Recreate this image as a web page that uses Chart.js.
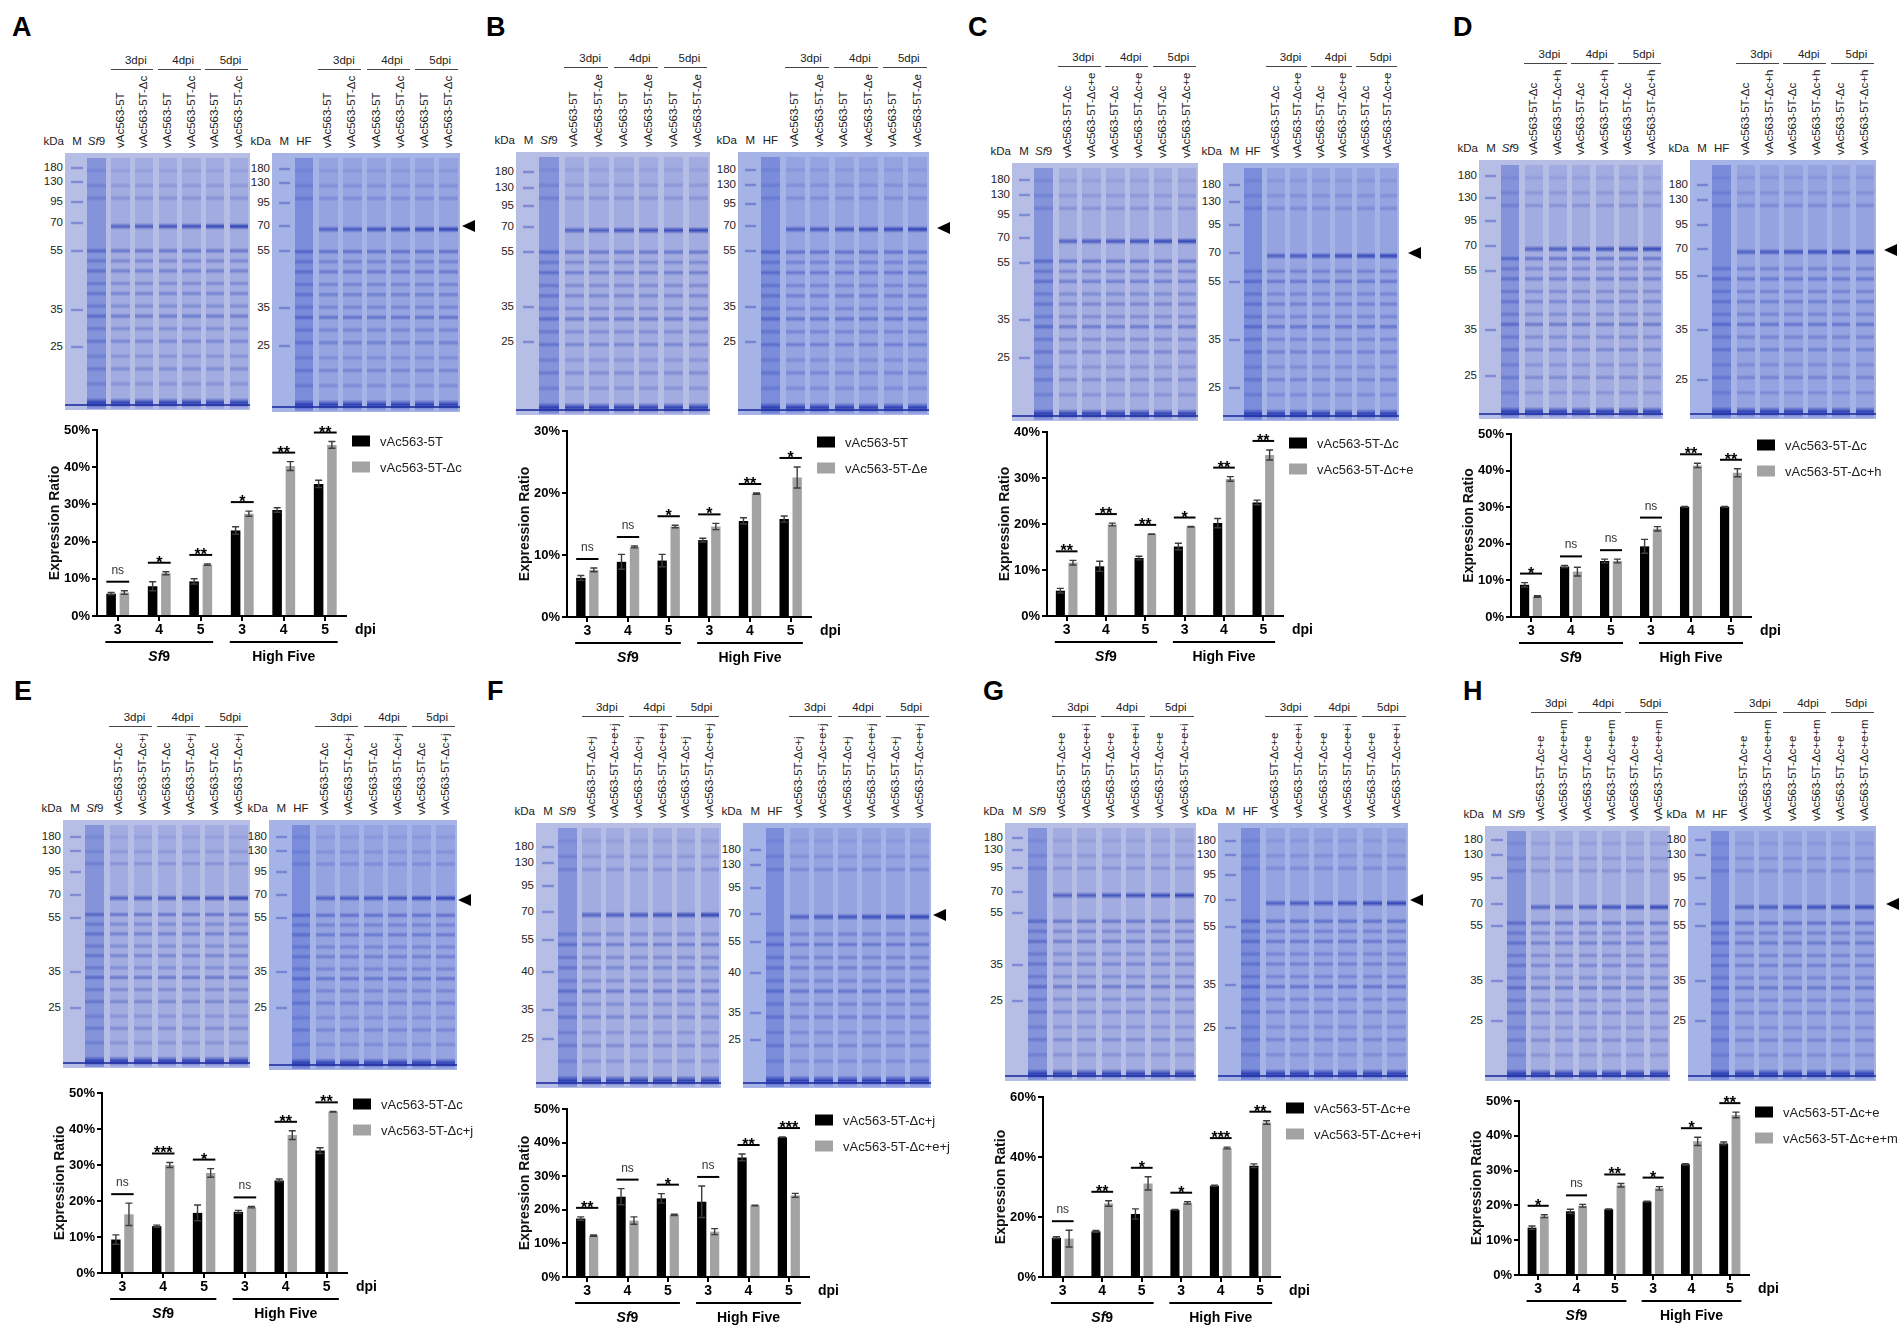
<!DOCTYPE html>
<html>
<head>
<meta charset="utf-8">
<script src="https://cdn.jsdelivr.net/npm/chart.js@4.4.1/dist/chart.umd.min.js"></script>
<style>
body { margin: 0; width: 1904px; height: 1329px; background: #fff; position: relative; overflow: hidden;
       font-family: "Liberation Sans", Arial, sans-serif; }
.t { position: absolute; line-height: 1; white-space: nowrap; font-size: 11.5px; color: #222; }
.v { position: absolute; line-height: 1; white-space: nowrap; font-size: 11.5px; color: #222;
     writing-mode: vertical-rl; transform: translate(-50%, -100%) rotate(180deg); }
.letter { position: absolute; font-size: 27px; font-weight: bold; line-height: 1; color: #000; }
.gel { position: absolute; overflow: hidden; }
.lane { position: absolute; }
.hline { position: absolute; height: 1px; background: #444; }
.arrow { position: absolute; width: 0; height: 0; border-top: 6px solid transparent;
         border-bottom: 6px solid transparent; border-right: 13px solid #000; }
canvas { position: absolute; }
</style>
</head>
<body>
<script>
// x categories and cell lines, shared by all panels
const dpiLabels = ['3', '4', '5', '3', '4', '5'];
const cellLines = ['Sf9', 'High Five'];

// A
const aNames = ['vAc563-5T', 'vAc563-5T-Δc'];
const aBlack = [6.0, 8.0, 9.3, 23.0, 28.5, 35.5];
const aBlackErr = [0.3, 1.2, 0.7, 1.0, 0.6, 1.0];
const aGray = [6.3, 11.5, 13.8, 27.5, 40.3, 46.0];
const aGrayErr = [0.5, 0.4, 0.2, 0.7, 1.2, 0.9];
const aSig = ['ns', '*', '**', '*', '**', '**'];

// B
const bNames = ['vAc563-5T', 'vAc563-5T-Δe'];
const bBlack = [6.3, 8.9, 9.1, 12.4, 15.5, 15.8];
const bBlackErr = [0.4, 1.2, 1.0, 0.3, 0.5, 0.5];
const bGray = [7.6, 11.3, 14.6, 14.6, 19.9, 22.5];
const bGrayErr = [0.3, 0.15, 0.2, 0.5, 0.1, 1.7];
const bSig = ['ns', 'ns', '*', '*', '**', '*'];

// C
const cNames = ['vAc563-5T-Δc', 'vAc563-5T-Δc+e'];
const cBlack = [5.5, 10.8, 12.6, 15.1, 20.2, 24.7];
const cBlackErr = [0.5, 1.1, 0.4, 0.7, 1.0, 0.5];
const cGray = [11.6, 19.9, 17.8, 19.4, 29.8, 35.0];
const cGrayErr = [0.5, 0.3, 0.05, 0.05, 0.5, 1.1];
const cSig = ['**', '**', '**', '*', '**', '**'];

// D
const dNames = ['vAc563-5T-Δc', 'vAc563-5T-Δc+h'];
const dBlack = [8.8, 13.8, 15.3, 19.3, 30.1, 30.1];
const dBlackErr = [0.6, 0.3, 0.5, 1.9, 0.1, 0.1];
const dGray = [5.6, 12.4, 15.3, 24.1, 41.4, 39.4];
const dGrayErr = [0.2, 1.2, 0.5, 0.6, 0.6, 1.1];
const dSig = ['*', 'ns', 'ns', 'ns', '**', '**'];

// E
const eNames = ['vAc563-5T-Δc', 'vAc563-5T-Δc+j'];
const eBlack = [9.3, 13.0, 16.7, 17.0, 25.7, 34.0];
const eBlackErr = [1.3, 0.3, 2.2, 0.4, 0.4, 0.8];
const eGray = [16.3, 30.0, 27.8, 18.3, 38.3, 44.8];
const eGrayErr = [3.1, 0.7, 1.2, 0.2, 1.2, 0.1];
const eSig = ['ns', '***', '*', 'ns', '**', '**'];

// F
const fNames = ['vAc563-5T-Δc+j', 'vAc563-5T-Δc+e+j'];
const fBlack = [17.4, 23.9, 23.4, 22.4, 35.6, 41.6];
const fBlackErr = [0.5, 2.4, 1.4, 4.7, 1.0, 0.05];
const fGray = [12.3, 16.8, 18.5, 13.5, 21.3, 24.3];
const fGrayErr = [0.2, 1.1, 0.2, 0.9, 0.1, 0.6];
const fSig = ['**', 'ns', '*', 'ns', '**', '***'];

// G
const gNames = ['vAc563-5T-Δc+e', 'vAc563-5T-Δc+e+i'];
const gBlack = [13.1, 15.2, 21.0, 22.4, 30.4, 37.1];
const gBlackErr = [0.3, 0.3, 1.7, 0.1, 0.2, 0.6];
const gGray = [12.8, 24.5, 31.2, 24.7, 43.0, 51.5];
const gGrayErr = [2.8, 0.9, 2.2, 0.4, 0.3, 0.6];
const gSig = ['ns', '**', '*', '*', '***', '**'];

// H
const hNames = ['vAc563-5T-Δc+e', 'vAc563-5T-Δc+e+m'];
const hBlack = [13.6, 18.3, 18.9, 21.1, 31.8, 37.8];
const hBlackErr = [0.5, 0.6, 0.1, 0.1, 0.2, 0.4];
const hGray = [16.9, 19.9, 25.8, 24.9, 38.4, 46.0];
const hGrayErr = [0.4, 0.4, 0.5, 0.5, 1.2, 0.8];
const hSig = ['*', 'ns', '**', '*', '*', '**'];

// gel marker ladders (kDa)
const ladder = ['180', '130', '95', '70', '55', '35', '25'];
const ladderF = ['180', '130', '95', '70', '55', '40', '35', '25'];

const panels = [
  { id: 'A', names: aNames, black: aBlack, blackErr: aBlackErr, gray: aGray, grayErr: aGrayErr, sig: aSig, max: 50, step: 10,
    letter: [12, 14], chart: { x: 97, end: 346, top: 430, zero: 616 }, arrow: [462, 226],
    gels: [{ x: 65, y: 153, w: 185, h: 257, s: 'Sf9', m: ladder, my: [15, 29, 49, 70, 98, 157, 194] },
           { x: 272, y: 153, w: 188, h: 259, s: 'HF', m: ladder, my: [16, 30, 50, 73, 98, 155, 193] }] },
  { id: 'B', names: bNames, black: bBlack, blackErr: bBlackErr, gray: bGray, grayErr: bGrayErr, sig: bSig, max: 30, step: 10,
    letter: [486, 14], chart: { x: 567, end: 811, top: 431, zero: 617 }, arrow: [937, 228],
    gels: [{ x: 516, y: 152, w: 194, h: 263, s: 'Sf9', m: ladder, my: [20, 36, 54, 75, 100, 155, 190] },
           { x: 738, y: 152, w: 191, h: 263, s: 'HF', m: ladder, my: [18, 33, 52, 74, 99, 155, 190] }] },
  { id: 'C', names: cNames, black: cBlack, blackErr: cBlackErr, gray: cGray, grayErr: cGrayErr, sig: cSig, max: 40, step: 10,
    letter: [968, 14], chart: { x: 1047, end: 1283, top: 432, zero: 616 }, arrow: [1408, 253],
    gels: [{ x: 1012, y: 163, w: 186, h: 258, s: 'Sf9', m: ladder, my: [17, 32, 52, 75, 100, 157, 195] },
           { x: 1223, y: 163, w: 176, h: 258, s: 'HF', m: ladder, my: [22, 39, 62, 90, 119, 177, 225] }] },
  { id: 'D', names: dNames, black: dBlack, blackErr: dBlackErr, gray: dGray, grayErr: dGrayErr, sig: dSig, max: 50, step: 10,
    letter: [1453, 14], chart: { x: 1511, end: 1751, top: 434, zero: 617 }, arrow: [1884, 250],
    gels: [{ x: 1479, y: 160, w: 184, h: 259, s: 'Sf9', m: ladder, my: [16, 38, 61, 86, 111, 170, 216] },
           { x: 1690, y: 160, w: 186, h: 259, s: 'HF', m: ladder, my: [25, 40, 65, 89, 116, 170, 220] }] },
  { id: 'E', names: eNames, black: eBlack, blackErr: eBlackErr, gray: eGray, grayErr: eGrayErr, sig: eSig, max: 50, step: 10,
    letter: [14, 678], chart: { x: 102, end: 347, top: 1093, zero: 1273 }, arrow: [458, 900],
    gels: [{ x: 63, y: 820, w: 187, h: 248, s: 'Sf9', m: ladder, my: [17, 31, 52, 75, 98, 152, 188] },
           { x: 269, y: 820, w: 188, h: 250, s: 'HF', m: ladder, my: [17, 31, 52, 75, 98, 152, 188] }] },
  { id: 'F', names: fNames, black: fBlack, blackErr: fBlackErr, gray: fGray, grayErr: fGrayErr, sig: fSig, max: 50, step: 10,
    letter: [487, 678], chart: { x: 567, end: 809, top: 1109, zero: 1277 }, arrow: [933, 915],
    gels: [{ x: 536, y: 823, w: 185, h: 265, s: 'Sf9', m: ladderF, my: [24, 40, 63, 89, 117, 149, 187, 216] },
           { x: 743, y: 823, w: 188, h: 265, s: 'HF', m: ladderF, my: [27, 42, 65, 91, 119, 150, 190, 217] }] },
  { id: 'G', names: gNames, black: gBlack, blackErr: gBlackErr, gray: gGray, grayErr: gGrayErr, sig: gSig, max: 60, step: 20,
    letter: [983, 678], chart: { x: 1043, end: 1280, top: 1097, zero: 1277 }, arrow: [1410, 900],
    gels: [{ x: 1005, y: 823, w: 191, h: 258, s: 'Sf9', m: ladder, my: [15, 27, 45, 69, 90, 142, 178] },
           { x: 1218, y: 823, w: 190, h: 258, s: 'HF', m: ladder, my: [18, 32, 52, 77, 104, 162, 205] }] },
  { id: 'H', names: hNames, black: hBlack, blackErr: hBlackErr, gray: hGray, grayErr: hGrayErr, sig: hSig, max: 50, step: 10,
    letter: [1463, 678], chart: { x: 1519, end: 1749, top: 1101, zero: 1275 }, arrow: [1886, 904],
    gels: [{ x: 1485, y: 826, w: 185, h: 255, s: 'Sf9', m: ladder, my: [14, 29, 52, 78, 100, 155, 195] },
           { x: 1688, y: 826, w: 188, h: 255, s: 'HF', m: ladder, my: [14, 29, 52, 78, 100, 155, 195] }] }
];

// ---------- gel pictures (decoration) ----------
const bandPos = [0.05, 0.11, 0.16, 0.37, 0.41, 0.45, 0.5, 0.54, 0.59, 0.63, 0.68, 0.73, 0.79, 0.84, 0.9];
const bandAlpha = [0.12, 0.18, 0.22, 0.45, 0.3, 0.38, 0.28, 0.32, 0.28, 0.42, 0.28, 0.32, 0.22, 0.28, 0.22];

function laneBg(bands) {
  bands.sort((a, b) => a[0] - b[0]);
  const c = 'rgba(30,50,175,';
  let s = [];
  bands.forEach(([p, hw, a]) => {
    s.push(c + '0) ' + ((p - hw) * 100).toFixed(2) + '%', c + a + ') ' + (p * 100).toFixed(2) + '%',
           c + '0) ' + ((p + hw) * 100).toFixed(2) + '%');
  });
  return 'linear-gradient(to bottom,' + s.join(',') + ')';
}

function txt(x, y, s, st, align) {
  let d = document.createElement('div');
  d.className = 't';
  d.innerHTML = s;
  d.style.left = x + 'px';
  d.style.top = y + 'px';
  d.style.transform = align === 'r' ? 'translate(-100%,-50%)' : (align === 'l' ? 'translate(0,-50%)' : 'translate(-50%,-50%)');
  if (st) Object.assign(d.style, st);
  document.body.appendChild(d);
  return d;
}

function makeGel(g, names, right) {
  let gel = document.createElement('div');
  gel.className = 'gel';
  gel.style.left = g.x + 'px';
  gel.style.top = g.y + 'px';
  gel.style.width = g.w + 'px';
  gel.style.height = g.h + 'px';
  gel.style.background = right ? '#a6b3e6' : '#b6bee6';
  document.body.appendChild(gel);

  let t70 = g.my[g.m.indexOf('70')] / g.h;
  // marker lane
  let mk = document.createElement('div');
  mk.className = 'lane';
  mk.style.left = (0.035 * g.w) + 'px';
  mk.style.width = (0.06 * g.w) + 'px';
  mk.style.top = '0px';
  mk.style.height = g.h + 'px';
  mk.style.backgroundImage = laneBg(g.my.map(v => [v / g.h, 0.007, 0.5]));
  gel.appendChild(mk);

  // sample + 6 virus lanes
  let centers = [0.17];
  for (let i = 0; i < 6; i++) centers.push(0.30 + i * 0.128);
  centers.forEach((c, i) => {
    let ln = document.createElement('div');
    ln.className = 'lane';
    let lw = 0.1 * g.w;
    ln.style.left = (c * g.w - lw / 2) + 'px';
    ln.style.width = lw + 'px';
    ln.style.top = (0.02 * g.h) + 'px';
    ln.style.height = (0.975 * g.h) + 'px';
    let bands = [];
    bandPos.forEach((p, k) => { if (Math.abs(p - t70) > 0.035) bands.push([p, 0.012, bandAlpha[k]]); });
    if (i > 0) bands.push([t70, 0.014, 0.55 + 0.05 * i]);
    bands.push([0.975, 0.02, 0.85]);
    ln.style.backgroundColor = i === 0 ? 'rgba(50,75,200,0.38)' : 'rgba(60,80,195,0.16)';
    ln.style.backgroundImage = laneBg(bands);
    gel.appendChild(ln);
  });
  let front = document.createElement('div');
  front.style.cssText = 'position:absolute;left:0;right:0;bottom:4px;height:2px;background:rgba(30,45,160,0.8)';
  gel.appendChild(front);

  // ladder labels
  g.m.forEach((lab, k) => txt(g.x - 2, g.y + g.my[k], lab, null, 'r'));
  // header row
  txt(g.x - 1, g.y - 11, 'kDa', null, 'r');
  txt(g.x + 0.065 * g.w, g.y - 11, 'M');
  txt(g.x + 0.17 * g.w, g.y - 11, g.s === 'Sf9' ? '<i>Sf</i>9' : 'HF');
  let maxLen = 0;
  let laneX = [];
  for (let i = 0; i < 6; i++) {
    let cx = g.x + (0.30 + i * 0.128) * g.w;
    laneX.push(cx);
    let v = document.createElement('div');
    v.className = 'v';
    v.textContent = names[i % 2];
    v.style.left = cx + 'px';
    v.style.top = (g.y - 5) + 'px';
    document.body.appendChild(v);
    maxLen = Math.max(maxLen, v.offsetHeight);
  }
  let ly = g.y - 5 - maxLen - 7;
  ['3dpi', '4dpi', '5dpi'].forEach((lab, k) => {
    let x0 = laneX[2 * k] - 10, x1 = laneX[2 * k + 1] + 9;
    let hl = document.createElement('div');
    hl.className = 'hline';
    hl.style.left = x0 + 'px';
    hl.style.width = (x1 - x0) + 'px';
    hl.style.top = ly + 'px';
    document.body.appendChild(hl);
    txt((x0 + x1) / 2 + 4, ly - 8, lab);
  });
}

// ---------- chart plugins ----------
Chart.defaults.font.family = '"Liberation Sans", Arial, sans-serif';
Chart.defaults.color = '#000';

const errorBars = {
  id: 'errorBars',
  afterDatasetsDraw(chart) {
    const ctx = chart.ctx, y = chart.scales.y;
    chart.data.datasets.forEach((ds, i) => {
      chart.getDatasetMeta(i).data.forEach((bar, j) => {
        let v = ds.data[j], e = ds.errs[j];
        let yt = y.getPixelForValue(v + e), yb = y.getPixelForValue(v - e);
        ctx.save();
        ctx.strokeStyle = '#3c3c3c';
        ctx.lineWidth = 1.4;
        ctx.beginPath();
        ctx.moveTo(bar.x, yt); ctx.lineTo(bar.x, yb);
        ctx.moveTo(bar.x - 3.5, yt); ctx.lineTo(bar.x + 3.5, yt);
        ctx.moveTo(bar.x - 3.5, yb); ctx.lineTo(bar.x + 3.5, yb);
        ctx.stroke();
        ctx.restore();
      });
    });
  }
};

const sigMarks = {
  id: 'sigMarks',
  afterDatasetsDraw(chart, args, opts) {
    const ctx = chart.ctx, y = chart.scales.y;
    const d0 = chart.data.datasets[0], d1 = chart.data.datasets[1];
    const m0 = chart.getDatasetMeta(0).data, m1 = chart.getDatasetMeta(1).data;
    opts.marks.forEach((mark, j) => {
      let top = Math.max(d0.data[j] + d0.errs[j], d1.data[j] + d1.errs[j]);
      let yl = y.getPixelForValue(top) - 9;
      let xl = m0[j].x - m0[j].width / 2, xr = m1[j].x + m1[j].width / 2;
      ctx.save();
      ctx.strokeStyle = '#000';
      ctx.lineWidth = 2;
      ctx.beginPath(); ctx.moveTo(xl, yl); ctx.lineTo(xr, yl); ctx.stroke();
      ctx.fillStyle = '#000';
      ctx.textAlign = 'center';
      if (mark === 'ns') {
        ctx.font = '12px "Liberation Sans", Arial';
        ctx.fillStyle = '#333';
        ctx.textBaseline = 'alphabetic';
        ctx.fillText('ns', (xl + xr) / 2, yl - 8);
      } else {
        ctx.font = 'bold 16px "Liberation Sans", Arial';
        ctx.textBaseline = 'alphabetic';
        ctx.fillText(mark, (xl + xr) / 2, yl + 5);
      }
      ctx.restore();
    });
  }
};

const extras = {
  id: 'extras',
  afterDraw(chart) {
    const ctx = chart.ctx, a = chart.chartArea;
    const m0 = chart.getDatasetMeta(0).data, m1 = chart.getDatasetMeta(1).data;
    ctx.save();
    // dpi
    ctx.fillStyle = '#000';
    ctx.font = 'bold 14px "Liberation Sans", Arial';
    ctx.textBaseline = 'middle';
    ctx.textAlign = 'left';
    ctx.fillText('dpi', a.right + 9, a.bottom + 14);
    // cell line groups
    [[0, 2], [3, 5]].forEach(([s, e], k) => {
      let x0 = m0[s].x - m0[s].width / 2 - 1, x1 = m1[e].x + m1[e].width / 2 + 1;
      let yy = a.bottom + 26;
      ctx.lineWidth = 2;
      ctx.strokeStyle = '#000';
      ctx.beginPath(); ctx.moveTo(x0, yy); ctx.lineTo(x1, yy); ctx.stroke();
      let cx = (x0 + x1) / 2, ty = a.bottom + 41;
      if (cellLines[k] === 'Sf9') {
        ctx.font = 'italic bold 14px "Liberation Sans", Arial';
        let w1 = ctx.measureText('Sf').width;
        ctx.font = 'bold 14px "Liberation Sans", Arial';
        let w2 = ctx.measureText('9').width;
        ctx.textAlign = 'left';
        ctx.font = 'italic bold 14px "Liberation Sans", Arial';
        ctx.fillText('Sf', cx - (w1 + w2) / 2, ty);
        ctx.font = 'bold 14px "Liberation Sans", Arial';
        ctx.fillText('9', cx - (w1 + w2) / 2 + w1, ty);
      } else {
        ctx.textAlign = 'center';
        ctx.font = 'bold 14px "Liberation Sans", Arial';
        ctx.fillText(cellLines[k], cx, ty);
      }
    });
    // legend
    ctx.textAlign = 'left';
    ctx.font = '13px "Liberation Sans", Arial';
    chart.data.datasets.forEach((ds, i) => {
      let yy = a.top + 11 + i * 26;
      ctx.fillStyle = ds.backgroundColor;
      ctx.fillRect(a.right + 6, yy - 5.5, 18, 11);
      ctx.fillStyle = '#222';
      ctx.fillText(ds.label, a.right + 34, yy + 1);
    });
    ctx.restore();
  }
};

function makeChart(p) {
  const c = p.chart;
  const padL = 50, padT = 32, xH = 22, padB = 36, padR = 165;
  let cv = document.createElement('canvas');
  let W = padL + (c.end - c.x) + padR, H = padT + (c.zero - c.top) + xH + padB;
  cv.width = W; cv.height = H;
  cv.style.left = (c.x - padL) + 'px';
  cv.style.top = (c.top - padT) + 'px';
  cv.style.width = W + 'px'; cv.style.height = H + 'px';
  document.body.appendChild(cv);

  new Chart(cv, {
    type: 'bar',
    data: {
      labels: dpiLabels,
      datasets: [
        { label: p.names[0], data: p.black, errs: p.blackErr, backgroundColor: '#000000' },
        { label: p.names[1], data: p.gray, errs: p.grayErr, backgroundColor: '#a3a3a3' }
      ]
    },
    options: {
      responsive: false,
      animation: false,
      devicePixelRatio: 1,
      layout: { autoPadding: false, padding: { left: 0, top: padT, right: padR, bottom: padB } },
      datasets: { bar: { categoryPercentage: 0.64, barPercentage: 0.72 } },
      plugins: { legend: { display: false }, tooltip: { enabled: false }, sigMarks: { marks: p.sig } },
      scales: {
        x: {
          afterFit: s => { s.height = xH; },
          border: { color: '#000', width: 2 },
          grid: { drawOnChartArea: false, offset: false, tickLength: 5, color: '#000', lineWidth: 2 },
          ticks: { font: { size: 14, weight: 'bold' }, color: '#000', padding: 1 }
        },
        y: {
          min: 0, max: p.max,
          afterFit: s => { s.width = padL; },
          border: { color: '#000', width: 2 },
          grid: { drawOnChartArea: false, tickLength: 5, color: '#000', lineWidth: 2 },
          ticks: { stepSize: p.step, callback: v => v + '%', font: { size: 13, weight: 'bold' }, color: '#000', padding: 2 },
          title: { display: true, text: 'Expression Ratio', font: { size: 14, weight: 'bold' }, color: '#111', padding: 0 }
        }
      }
    },
    plugins: [errorBars, sigMarks, extras]
  });
}

panels.forEach(p => {
  let L = document.createElement('div');
  L.className = 'letter';
  L.textContent = p.id;
  L.style.left = p.letter[0] + 'px';
  L.style.top = p.letter[1] + 'px';
  document.body.appendChild(L);
  makeGel(p.gels[0], p.names, false);
  makeGel(p.gels[1], p.names, true);
  let ar = document.createElement('div');
  ar.className = 'arrow';
  ar.style.left = p.arrow[0] + 'px';
  ar.style.top = (p.arrow[1] - 6) + 'px';
  document.body.appendChild(ar);
  makeChart(p);
});
</script>
</body>
</html>
